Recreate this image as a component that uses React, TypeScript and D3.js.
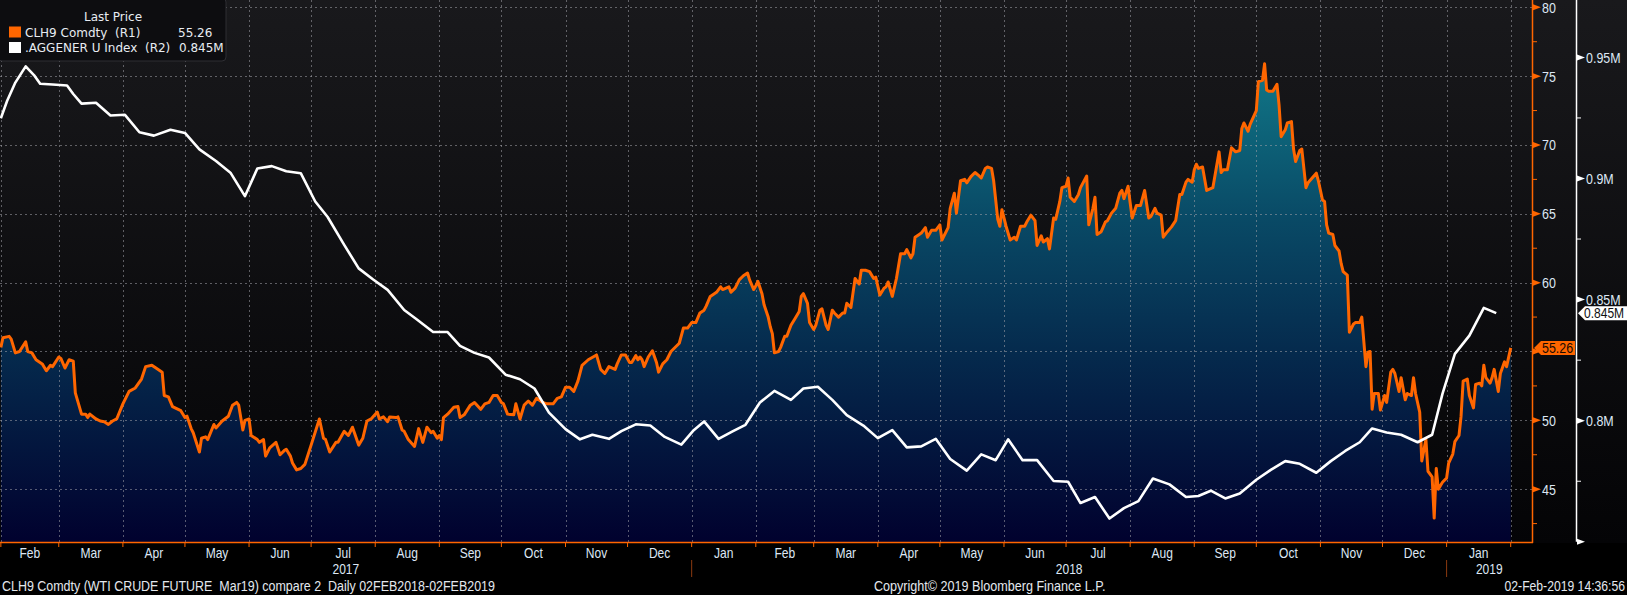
import { useEffect } from 'react';
import type { ReactNode } from 'react';
import * as d3 from 'd3';

// CLH9 Comdty (R1)
const crude2017: [string, number][] = [
  ['2017-02-01', 55.3], ['2017-02-02', 56.0], ['2017-02-05', 56.1], ['2017-02-06', 55.9], ['2017-02-08', 54.9],
  ['2017-02-10', 55.0], ['2017-02-13', 55.7], ['2017-02-14', 55.0], ['2017-02-16', 54.9], ['2017-02-18', 54.4],
  ['2017-02-21', 54.1], ['2017-02-23', 53.6], ['2017-02-25', 54.0], ['2017-02-26', 53.9], ['2017-03-01', 54.6],
  ['2017-03-02', 54.5], ['2017-03-04', 53.8], ['2017-03-06', 54.4], ['2017-03-08', 54.3], ['2017-03-09', 52.0],
  ['2017-03-12', 50.45], ['2017-03-14', 50.45], ['2017-03-15', 50.2], ['2017-03-16', 50.45], ['2017-03-19', 50.1],
  ['2017-03-21', 49.95], ['2017-03-23', 49.9], ['2017-03-25', 49.7], ['2017-03-27', 49.95], ['2017-03-29', 50.1],
  ['2017-04-01', 51.2], ['2017-04-04', 52.1], ['2017-04-07', 52.35], ['2017-04-10', 53.0], ['2017-04-12', 53.9],
  ['2017-04-15', 54.0], ['2017-04-17', 53.8], ['2017-04-20', 53.5], ['2017-04-21', 51.8], ['2017-04-23', 51.7],
  ['2017-04-25', 51.0], ['2017-04-29', 50.7], ['2017-05-01', 50.2], ['2017-05-02', 50.3], ['2017-05-04', 49.4],
  ['2017-05-05', 49.1], ['2017-05-08', 47.7], ['2017-05-09', 48.7], ['2017-05-11', 48.8], ['2017-05-12', 48.6],
  ['2017-05-15', 49.7], ['2017-05-16', 49.45], ['2017-05-19', 49.95], ['2017-05-22', 50.3], ['2017-05-24', 51.1],
  ['2017-05-26', 51.3], ['2017-05-27', 51.1], ['2017-05-29', 49.3], ['2017-05-30', 50.0], ['2017-06-01', 50.1],
  ['2017-06-02', 48.9], ['2017-06-05', 48.6], ['2017-06-06', 48.4], ['2017-06-08', 48.6], ['2017-06-09', 47.4],
  ['2017-06-11', 48.0], ['2017-06-14', 48.4], ['2017-06-16', 47.5], ['2017-06-18', 47.8], ['2017-06-19', 47.9],
  ['2017-06-21', 47.4], ['2017-06-22', 46.9], ['2017-06-24', 46.4], ['2017-06-26', 46.5], ['2017-06-28', 46.8],
  ['2017-07-01', 48.2], ['2017-07-05', 50.1], ['2017-07-07', 48.7], ['2017-07-08', 48.6], ['2017-07-10', 47.7],
  ['2017-07-13', 48.4], ['2017-07-14', 48.4], ['2017-07-17', 49.2], ['2017-07-19', 48.9], ['2017-07-21', 49.5],
  ['2017-07-24', 48.2], ['2017-07-26', 48.7], ['2017-07-28', 49.95], ['2017-07-30', 50.1], ['2017-08-02', 50.6],
  ['2017-08-03', 50.1], ['2017-08-05', 50.25], ['2017-08-07', 49.9], ['2017-08-08', 50.25], ['2017-08-11', 50.2],
  ['2017-08-12', 50.25], ['2017-08-14', 49.3], ['2017-08-15', 49.2], ['2017-08-17', 48.6], ['2017-08-20', 48.1],
  ['2017-08-22', 49.4], ['2017-08-24', 48.4], ['2017-08-26', 49.5], ['2017-08-28', 49.1], ['2017-08-29', 49.2],
  ['2017-08-31', 48.7], ['2017-09-01', 48.9], ['2017-09-02', 48.6], ['2017-09-03', 50.2], ['2017-09-05', 50.45],
  ['2017-09-08', 50.95], ['2017-09-10', 51.0], ['2017-09-11', 50.2], ['2017-09-13', 50.4], ['2017-09-16', 51.1],
  ['2017-09-18', 51.3], ['2017-09-21', 50.8], ['2017-09-23', 51.2], ['2017-09-25', 51.3], ['2017-09-27', 51.8],
  ['2017-09-29', 51.8], ['2017-10-01', 51.3], ['2017-10-02', 51.2], ['2017-10-04', 50.45], ['2017-10-07', 50.4],
  ['2017-10-08', 51.2], ['2017-10-10', 50.1], ['2017-10-12', 51.1], ['2017-10-14', 51.4], ['2017-10-16', 51.1],
  ['2017-10-18', 51.6], ['2017-10-21', 51.3], ['2017-10-23', 51.2], ['2017-10-26', 51.2], ['2017-10-28', 51.6],
  ['2017-10-30', 51.7], ['2017-11-01', 52.4], ['2017-11-03', 52.4], ['2017-11-05', 52.1], ['2017-11-07', 52.85],
  ['2017-11-09', 54.0], ['2017-11-12', 54.4], ['2017-11-16', 54.75], ['2017-11-18', 53.7], ['2017-11-20', 53.4],
  ['2017-11-22', 53.9], ['2017-11-25', 53.7], ['2017-11-26', 54.1], ['2017-11-28', 54.75], ['2017-11-30', 54.75],
  ['2017-12-02', 54.2], ['2017-12-03', 54.2], ['2017-12-05', 54.7], ['2017-12-06', 54.4], ['2017-12-07', 54.6],
  ['2017-12-08', 54.4], ['2017-12-09', 53.9], ['2017-12-11', 54.6], ['2017-12-13', 55.05], ['2017-12-15', 54.2],
  ['2017-12-16', 53.5], ['2017-12-18', 54.1], ['2017-12-20', 54.4], ['2017-12-22', 55.0], ['2017-12-26', 55.6],
  ['2017-12-28', 56.7], ['2017-12-30', 56.7],
];

const crude2018: [string, number][] = [
  ['2018-01-01', 57.1], ['2018-01-03', 57.1], ['2018-01-05', 57.8], ['2018-01-07', 58.0], ['2018-01-08', 58.3],
  ['2018-01-10', 59.0], ['2018-01-13', 59.3], ['2018-01-15', 59.7], ['2018-01-16', 59.5], ['2018-01-19', 59.7],
  ['2018-01-20', 59.3], ['2018-01-22', 59.6], ['2018-01-24', 60.2], ['2018-01-26', 60.5], ['2018-01-28', 60.7],
  ['2018-01-29', 60.2], ['2018-01-31', 59.5], ['2018-02-01', 59.75], ['2018-02-02', 60.1], ['2018-02-04', 59.2],
  ['2018-02-05', 58.4], ['2018-02-07', 57.5], ['2018-02-08', 56.8], ['2018-02-09', 56.3], ['2018-02-10', 54.9],
  ['2018-02-12', 55.0], ['2018-02-13', 55.3], ['2018-02-15', 56.1], ['2018-02-16', 56.1], ['2018-02-18', 56.9],
  ['2018-02-20', 57.4], ['2018-02-22', 57.9], ['2018-02-23', 59.0], ['2018-02-24', 59.2], ['2018-02-26', 58.5],
  ['2018-02-27', 57.1], ['2018-03-01', 56.6], ['2018-03-02', 56.9], ['2018-03-04', 58.0], ['2018-03-05', 58.1],
  ['2018-03-07', 56.9], ['2018-03-08', 56.6], ['2018-03-10', 58.0], ['2018-03-11', 57.8], ['2018-03-13', 57.5],
  ['2018-03-15', 57.8], ['2018-03-16', 57.8], ['2018-03-17', 58.5], ['2018-03-19', 58.2], ['2018-03-21', 60.3],
  ['2018-03-23', 59.9], ['2018-03-24', 60.9], ['2018-03-26', 60.9], ['2018-03-28', 60.8], ['2018-03-30', 60.3],
  ['2018-03-31', 60.4], ['2018-04-02', 59.1], ['2018-04-04', 59.6], ['2018-04-05', 59.7], ['2018-04-06', 60.05],
  ['2018-04-08', 59.0], ['2018-04-10', 60.3], ['2018-04-12', 62.1], ['2018-04-14', 62.1], ['2018-04-15', 62.4],
  ['2018-04-17', 61.8], ['2018-04-18', 62.1], ['2018-04-19', 63.3], ['2018-04-21', 63.5], ['2018-04-22', 63.6],
  ['2018-04-24', 64.0], ['2018-04-25', 63.3], ['2018-04-27', 63.8], ['2018-04-29', 63.8], ['2018-05-01', 64.2],
  ['2018-05-02', 63.1], ['2018-05-05', 64.0], ['2018-05-06', 65.4], ['2018-05-08', 66.5], ['2018-05-09', 65.05],
  ['2018-05-11', 67.4], ['2018-05-13', 67.5], ['2018-05-14', 67.25], ['2018-05-16', 67.7], ['2018-05-18', 68.0],
  ['2018-05-20', 67.75], ['2018-05-21', 67.6], ['2018-05-23', 68.3], ['2018-05-24', 68.4], ['2018-05-26', 68.3],
  ['2018-05-27', 67.4], ['2018-05-29', 64.6], ['2018-05-30', 64.1], ['2018-05-31', 65.3], ['2018-06-02', 64.1],
  ['2018-06-04', 63.1], ['2018-06-06', 63.3], ['2018-06-07', 63.1], ['2018-06-09', 64.1], ['2018-06-11', 64.1],
  ['2018-06-12', 64.4], ['2018-06-14', 64.9], ['2018-06-16', 64.5], ['2018-06-17', 62.7], ['2018-06-19', 63.4],
  ['2018-06-20', 62.95], ['2018-06-22', 63.2], ['2018-06-23', 62.45], ['2018-06-25', 64.7], ['2018-06-26', 64.6],
  ['2018-06-28', 65.9], ['2018-06-29', 66.9], ['2018-07-01', 67.0], ['2018-07-02', 67.6], ['2018-07-03', 66.2],
  ['2018-07-05', 65.9], ['2018-07-07', 66.4], ['2018-07-08', 66.9], ['2018-07-11', 67.75], ['2018-07-12', 64.2],
  ['2018-07-14', 65.4], ['2018-07-15', 66.2], ['2018-07-16', 63.5], ['2018-07-18', 63.7], ['2018-07-20', 64.4],
  ['2018-07-21', 64.5], ['2018-07-23', 65.05], ['2018-07-25', 65.4], ['2018-07-27', 66.5], ['2018-07-28', 66.7],
  ['2018-07-29', 66.1], ['2018-07-31', 67.0], ['2018-08-01', 65.8], ['2018-08-02', 64.7], ['2018-08-04', 65.6],
  ['2018-08-06', 65.6], ['2018-08-08', 66.7], ['2018-08-10', 64.7], ['2018-08-11', 64.8], ['2018-08-13', 65.4],
  ['2018-08-14', 65.05], ['2018-08-16', 64.9], ['2018-08-17', 63.3], ['2018-08-19', 63.7], ['2018-08-21', 64.05],
  ['2018-08-23', 64.5], ['2018-08-25', 66.4], ['2018-08-26', 66.4], ['2018-08-28', 67.3], ['2018-08-29', 67.5],
  ['2018-08-31', 67.3], ['2018-09-01', 68.2], ['2018-09-02', 68.6], ['2018-09-03', 68.3], ['2018-09-05', 68.4],
  ['2018-09-07', 66.7], ['2018-09-10', 66.9], ['2018-09-13', 69.5], ['2018-09-14', 68.0], ['2018-09-15', 68.2],
  ['2018-09-17', 68.2], ['2018-09-19', 69.8], ['2018-09-21', 69.5], ['2018-09-23', 69.6], ['2018-09-24', 71.2],
  ['2018-09-25', 71.6], ['2018-09-27', 71.0], ['2018-09-28', 71.5], ['2018-10-01', 72.5], ['2018-10-02', 74.6],
  ['2018-10-04', 74.7], ['2018-10-05', 75.9], ['2018-10-06', 74.0], ['2018-10-07', 73.9], ['2018-10-09', 73.9],
  ['2018-10-11', 74.4], ['2018-10-12', 72.9], ['2018-10-13', 70.6], ['2018-10-15', 71.1], ['2018-10-16', 71.6],
  ['2018-10-18', 71.7], ['2018-10-19', 69.7], ['2018-10-20', 68.8], ['2018-10-22', 69.6], ['2018-10-23', 69.7],
  ['2018-10-25', 66.9], ['2018-10-26', 67.25], ['2018-10-28', 67.6], ['2018-10-30', 67.95], ['2018-10-31', 67.4],
  ['2018-11-02', 66.0], ['2018-11-03', 65.9], ['2018-11-04', 64.2], ['2018-11-05', 63.6], ['2018-11-07', 63.5],
  ['2018-11-08', 62.7], ['2018-11-10', 62.3], ['2018-11-11', 61.4], ['2018-11-12', 60.8], ['2018-11-14', 60.55],
  ['2018-11-15', 56.4], ['2018-11-17', 57.0], ['2018-11-18', 57.1], ['2018-11-20', 57.1], ['2018-11-21', 57.5],
  ['2018-11-23', 53.9], ['2018-11-24', 54.95], ['2018-11-25', 55.0], ['2018-11-26', 50.8], ['2018-11-27', 51.95],
  ['2018-11-29', 51.95], ['2018-11-30', 50.75], ['2018-12-02', 51.8], ['2018-12-03', 51.3], ['2018-12-05', 53.5],
  ['2018-12-06', 53.7], ['2018-12-07', 53.4], ['2018-12-09', 52.1], ['2018-12-10', 53.1], ['2018-12-12', 51.5],
  ['2018-12-13', 51.95], ['2018-12-15', 51.8], ['2018-12-16', 53.1], ['2018-12-17', 51.95], ['2018-12-19', 50.6],
  ['2018-12-20', 47.05], ['2018-12-22', 48.6], ['2018-12-23', 46.3], ['2018-12-25', 45.9], ['2018-12-26', 42.9],
  ['2018-12-27', 46.5], ['2018-12-28', 45.0], ['2018-12-30', 45.5],
];

const crude2019: [string, number][] = [
  ['2019-01-01', 45.8], ['2019-01-02', 46.9], ['2019-01-04', 47.55], ['2019-01-05', 48.45], ['2019-01-07', 48.9],
  ['2019-01-08', 50.3], ['2019-01-09', 52.85], ['2019-01-11', 53.0], ['2019-01-12', 51.8], ['2019-01-14', 50.9],
  ['2019-01-15', 52.6], ['2019-01-17', 52.7], ['2019-01-18', 52.5], ['2019-01-19', 54.0], ['2019-01-20', 53.1],
  ['2019-01-22', 52.7], ['2019-01-23', 53.1], ['2019-01-24', 53.7], ['2019-01-26', 52.1], ['2019-01-27', 53.4],
  ['2019-01-29', 54.25], ['2019-01-30', 53.9], ['2019-02-01', 55.26],
];

// .AGGENER U Index (R2), in millions
const gener2017: [string, number][] = [
  ['2017-02-01', 0.9249], ['2017-02-04', 0.932], ['2017-02-08', 0.9396], ['2017-02-13', 0.9463], ['2017-02-17', 0.9427],
  ['2017-02-20', 0.9391], ['2017-02-26', 0.9388], ['2017-03-05', 0.9384], ['2017-03-08', 0.9349], ['2017-03-12', 0.9309],
  ['2017-03-19', 0.9313], ['2017-03-26', 0.926], ['2017-04-02', 0.9263], ['2017-04-09', 0.9191], ['2017-04-16', 0.9177],
  ['2017-04-24', 0.9201], ['2017-05-01', 0.9188], ['2017-05-08', 0.912], ['2017-05-16', 0.9072], ['2017-05-23', 0.9024],
  ['2017-05-30', 0.8927], ['2017-06-05', 0.9041], ['2017-06-12', 0.9051], ['2017-06-19', 0.903], ['2017-06-26', 0.9022],
  ['2017-07-03', 0.8905], ['2017-07-09', 0.8841], ['2017-07-17', 0.8726], ['2017-07-24', 0.8629], ['2017-07-31', 0.8583],
  ['2017-08-07', 0.854], ['2017-08-15', 0.8457], ['2017-08-21', 0.8419], ['2017-08-29', 0.8366], ['2017-09-05', 0.8366],
  ['2017-09-11', 0.8309], ['2017-09-18', 0.828], ['2017-09-25', 0.8261], ['2017-10-03', 0.819], ['2017-10-10', 0.8171],
  ['2017-10-17', 0.8133], ['2017-10-24', 0.8033], ['2017-11-01', 0.7965], ['2017-11-08', 0.7923], ['2017-11-14', 0.7942],
  ['2017-11-22', 0.7925], ['2017-11-28', 0.7957], ['2017-12-05', 0.7985], ['2017-12-12', 0.798], ['2017-12-19', 0.7933],
  ['2017-12-27', 0.7901],
];

const gener2018: [string, number][] = [
  ['2018-01-02', 0.7961], ['2018-01-07', 0.7997], ['2018-01-14', 0.7925], ['2018-01-21', 0.7957], ['2018-01-27', 0.7983],
  ['2018-02-03', 0.8075], ['2018-02-10', 0.8123], ['2018-02-18', 0.8086], ['2018-02-24', 0.8133], ['2018-03-03', 0.814],
  ['2018-03-10', 0.8086], ['2018-03-17', 0.8023], ['2018-03-25', 0.798], ['2018-04-01', 0.7928], ['2018-04-08', 0.7961],
  ['2018-04-15', 0.789], ['2018-04-22', 0.7894], ['2018-04-29', 0.7925], ['2018-05-06', 0.7842], ['2018-05-14', 0.7794],
  ['2018-05-21', 0.7861], ['2018-05-28', 0.7837], ['2018-06-03', 0.7923], ['2018-06-10', 0.7837], ['2018-06-17', 0.7837],
  ['2018-06-25', 0.7751], ['2018-07-02', 0.7748], ['2018-07-08', 0.766], ['2018-07-15', 0.7685], ['2018-07-22', 0.7596],
  ['2018-07-29', 0.7639], ['2018-08-05', 0.7668], ['2018-08-12', 0.7761], ['2018-08-20', 0.7737], ['2018-08-28', 0.7685],
  ['2018-09-03', 0.7689], ['2018-09-09', 0.7711], ['2018-09-16', 0.7679], ['2018-09-23', 0.7699], ['2018-10-01', 0.7756],
  ['2018-10-08', 0.7797], ['2018-10-15', 0.7833], ['2018-10-22', 0.7822], ['2018-10-30', 0.7785], ['2018-11-06', 0.7833],
  ['2018-11-13', 0.7875], ['2018-11-20', 0.7911], ['2018-11-26', 0.7968], ['2018-12-03', 0.7951], ['2018-12-10', 0.7942],
  ['2018-12-18', 0.7911], ['2018-12-25', 0.7942], ['2018-12-30', 0.8111],
];

const gener2019: [string, number][] = [
  ['2019-01-05', 0.8276], ['2019-01-12', 0.8351], ['2019-01-19', 0.8466], ['2019-01-25', 0.8444],
];

const crudeTicks = [45, 50, 55, 60, 65, 70, 75, 80];
const crudeMinorTicks = [42.5, 47.5, 52.5, 57.5, 62.5, 67.5, 72.5, 77.5];
const generTicks = [0.75, 0.8, 0.85, 0.9, 0.95];
const generLabeled = [0.8, 0.85, 0.9, 0.95];
const generMinorTicks = [0.775, 0.825, 0.875, 0.925];
const yearLabels = [2017, 2018, 2019];

const legendTitle = 'Last Price';
const legendRows = [
  { name: 'CLH9 Comdty\u00a0\u00a0(R1)', last: '55.26', color: '#ff6600' },
  { name: '.AGGENER U Index\u00a0\u00a0(R2)', last: '0.845M', color: '#ffffff' },
];
const footerLeft = 'CLH9 Comdty (WTI CRUDE FUTURE\u00a0\u00a0Mar19) compare 2\u00a0\u00a0Daily 02FEB2018-02FEB2019';
const footerMid = 'Copyright\u00a9 2019 Bloomberg Finance L.P.';
const footerRight = '02-Feb-2019 14:36:56';

type Pt = { date: Date; v: number };

const width = 1627;
const height = 595;
const plotW = 1532;
const plotH = 543;
const axisW = 1576;

const labelColor = '#dde7f4';
const orange = '#ff6600';

const parse = d3.timeParse('%Y-%m-%d');
const toPts = (rows: [string, number][]): Pt[] => rows.map(([d, v]) => ({ date: parse(d) as Date, v }));

// Bloomberg's terminal font is narrow; squeeze Liberation Sans horizontally
const N = ({ x, y, size = 14, sx = 0.86, anchor = 'start', fill = labelColor, children }: {
  x: number; y: number; size?: number; sx?: number; anchor?: string; fill?: string; children: ReactNode;
}) => (
  <text
    transform={`translate(${x},${y}) scale(${sx},1)`}
    textAnchor={anchor}
    fill={fill}
    fontFamily="'Liberation Sans', Arial, sans-serif"
    fontSize={size}
  >
    {children}
  </text>
);

const App = () => {
  useEffect(() => {
    document.body.style.margin = '0';
    document.body.style.background = '#000';
  }, []);

  const crude = toPts([...crude2017, ...crude2018, ...crude2019]);
  const gener = toPts([...gener2017, ...gener2018, ...gener2019]);

  const x = d3.scaleTime()
    .domain([new Date(2017, 0, 31, 14), new Date(2019, 1, 11, 7)])
    .range([0, plotW]);
  const yO = d3.scaleLinear().domain([41.09, 80.53]).range([plotH, 0]);
  const yW = d3.scaleLinear().domain([0.7495, 0.9737]).range([plotH, 0]);

  const area = d3.area<Pt>().x(d => x(d.date)).y0(plotH).y1(d => yO(d.v));
  const lineO = d3.line<Pt>().x(d => x(d.date)).y(d => yO(d.v));
  const lineW = d3.line<Pt>().x(d => x(d.date)).y(d => yW(d.v));

  const monthTicks = d3.timeMonth.range(new Date(2017, 1, 1), new Date(2019, 1, 2));
  const monthLabels = d3.timeMonth.range(new Date(2017, 1, 1), new Date(2019, 1, 1));
  const fmtMonth = d3.timeFormat('%b');

  const lastO = crude[crude.length - 1];
  const lastW = gener[gener.length - 1];
  const yLastO = yO(lastO.v);
  const yLastW = yW(lastW.v);

  const tri = (ax: number, y: number) => `M${ax},${y - 3}L${ax + 8},${y}L${ax},${y + 3}Z`;

  return (
    <div style={{ position: 'absolute', left: 0, top: 0 }}>
      <svg width={width} height={height} style={{ display: 'block', background: '#000' }}>
        <defs>
          <linearGradient id="bg" gradientUnits="userSpaceOnUse" x1="0" y1="0" x2="0" y2={plotH}>
            <stop offset="0" stopColor="#19191c" />
            <stop offset="1" stopColor="#040406" />
          </linearGradient>
          <linearGradient id="fill" gradientUnits="userSpaceOnUse" x1="0" y1="0" x2="0" y2={plotH}>
            <stop offset="0.1" stopColor="#117a8a" />
            <stop offset="0.4" stopColor="#094a66" />
            <stop offset="0.65" stopColor="#052a4d" />
            <stop offset="1" stopColor="#01012e" />
          </linearGradient>
        </defs>

        <rect x={0} y={0} width={width} height={plotH} fill="url(#bg)" />

        <path d={area(crude) ?? ''} fill="url(#fill)" />

        {/* grid */}
        <g stroke="#a0a0a8" strokeOpacity={0.55} strokeDasharray="2,3" strokeWidth={1}>
          {crudeTicks.map(t => (
            <line key={`h${t}`} x1={0} x2={plotW} y1={Math.round(yO(t)) + 0.5} y2={Math.round(yO(t)) + 0.5} />
          ))}
          {monthTicks.map(m => (
            <line key={`v${+m}`} x1={Math.round(x(m)) + 0.5} x2={Math.round(x(m)) + 0.5} y1={0} y2={plotH} />
          ))}
        </g>

        <path d={lineO(crude) ?? ''} fill="none" stroke={orange} strokeWidth={3} strokeLinejoin="round" />
        <path d={lineW(gener) ?? ''} fill="none" stroke="#ffffff" strokeWidth={2.6} strokeLinejoin="round" />

        {/* R1 axis */}
        <line x1={plotW + 0.5} x2={plotW + 0.5} y1={0} y2={plotH} stroke={orange} strokeWidth={1.5} />
        <line x1={0} x2={plotW + 1} y1={plotH - 0.5} y2={plotH - 0.5} stroke={orange} strokeWidth={1.5} />
        {crudeTicks.map(t => (
          <g key={`o${t}`}>
            <path d={tri(plotW + 1, yO(t))} fill={orange} />
            {Math.abs(yO(t) - yLastO) > 11 && <N x={plotW + 10} y={yO(t) + 5.5} size={14.5}>{t}</N>}
          </g>
        ))}
        {crudeMinorTicks.map(t => (
          <line key={`om${t}`} x1={plotW} x2={plotW + 5} y1={yO(t)} y2={yO(t)} stroke={orange} strokeWidth={1} />
        ))}

        {/* R2 axis */}
        <line x1={axisW + 0.5} x2={axisW + 0.5} y1={0} y2={yW(0.75)} stroke="#ffffff" strokeWidth={1.5} />
        {generTicks.map(t => (
          <path key={`w${t}`} d={tri(axisW + 1, yW(t))} fill="#ffffff" />
        ))}
        {generLabeled.map(t => (
          <N key={`wl${t}`} x={axisW + 10} y={yW(t) + 5.5} size={14.5}>{`${t}M`}</N>
        ))}
        {generMinorTicks.map(t => (
          <line key={`wm${t}`} x1={axisW} x2={axisW + 5} y1={yW(t)} y2={yW(t)} stroke="#ffffff" strokeWidth={1} />
        ))}

        {/* last value tags */}
        <path
          d={`M${plotW + 2},${yLastO}L${plotW + 9},${yLastO - 7}L${plotW + 43},${yLastO - 7}L${plotW + 43},${yLastO + 7}L${plotW + 9},${yLastO + 7}Z`}
          fill={orange}
        />
        <N x={plotW + 10} y={yLastO + 5} size={14.5} fill="#1a0a00">{legendRows[0].last}</N>
        <path
          d={`M${axisW + 2},${yLastW}L${axisW + 9},${yLastW - 7}L${width},${yLastW - 7}L${width},${yLastW + 7}L${axisW + 9},${yLastW + 7}Z`}
          fill="#ffffff"
        />
        <N x={axisW + 8} y={yLastW + 5} size={14} fill="#111">{legendRows[1].last}</N>

        {/* x axis */}
        {monthTicks.map(m => (
          <line key={`t${+m}`} x1={x(m)} x2={x(m)} y1={plotH} y2={plotH + 4} stroke={orange} strokeWidth={1} />
        ))}
        {monthLabels.map(m => {
          const a = Math.max(0, x(m));
          const b = x(d3.timeMonth.offset(m, 1));
          return (
            <N key={`ml${+m}`} x={(a + b) / 2} y={558} anchor="middle" size={14}>{fmtMonth(m)}</N>
          );
        })}
        {yearLabels.map(yr => {
          const a = Math.max(0, x(new Date(yr, 0, 1)));
          const b = Math.min(plotW, x(new Date(yr + 1, 0, 1)));
          return (
            <g key={`y${yr}`}>
              {x(new Date(yr, 0, 1)) > 0 && (
                <line x1={a} x2={a} y1={560} y2={577} stroke="#8a3a10" strokeWidth={1} />
              )}
              <N x={(a + b) / 2} y={574} anchor="middle" size={14}>{yr}</N>
            </g>
          );
        })}

        {/* footer */}
        <N x={2} y={591} size={14} sx={0.89} fill="#e4e8ee">{footerLeft}</N>
        <N x={874} y={591} size={14} sx={0.9} fill="#e4e8ee">{footerMid}</N>
        <N x={width - 2} y={591} size={14} sx={0.87} anchor="end" fill="#e4e8ee">{footerRight}</N>

        {/* legend */}
        <rect x={-2} y={-2} width={228} height={63} rx={4} fill="#0d0d10" stroke="#2e2e33" />
        <g fontFamily="'DejaVu Sans', sans-serif" fontSize={12} fill="#e8ecf2">
          <text x={113} y={21} textAnchor="middle">{legendTitle}</text>
          {legendRows.map((r, i) => (
            <g key={r.name}>
              <rect x={9} y={26.5 + i * 15.5} width={12} height={11} fill={r.color} />
              <text x={25} y={36.7 + i * 15.5}>{r.name}</text>
              <text x={i === 0 ? 178 : 179} y={36.7 + i * 15.5}>{r.last}</text>
            </g>
          ))}
        </g>
      </svg>
    </div>
  );
};

export default App;
